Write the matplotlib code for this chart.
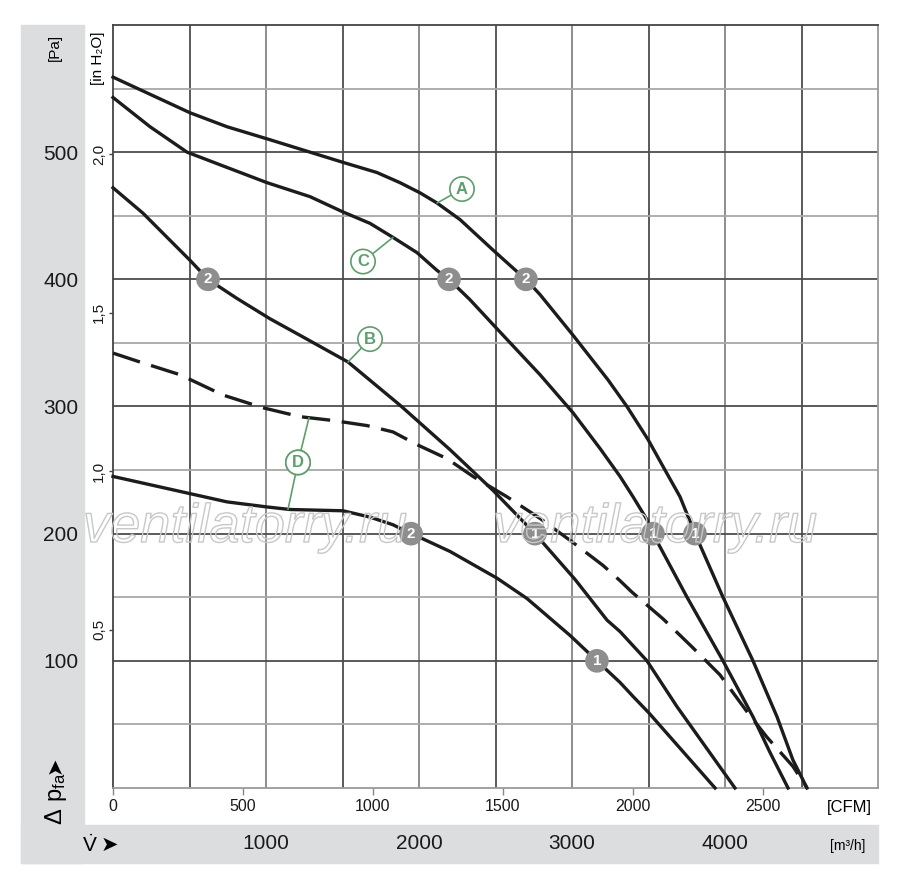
import numpy as np
import matplotlib
matplotlib.use('Agg')
import matplotlib.pyplot as plt
import matplotlib.patheffects as pe
from matplotlib.patches import Rectangle

plt.rcParams['font.family'] = ['Liberation Sans', 'DejaVu Sans']

# flow in m3/h, static pressure in Pa
a_flow = [0, 503, 745, 1020, 1288, 1503, 1725, 1876, 2007, 2118, 2268, 2484, 2641, 2699, 2791,
          3007, 3235, 3359, 3497, 3608, 3706, 3804, 3987, 4183, 4340, 4444, 4536]
a_pa = [559, 531, 520, 510, 500, 492, 484, 476, 468, 460, 447, 423, 406, 400, 388,
        356, 321, 300, 274, 250, 229, 200, 150, 100, 56, 22, 0]

c_flow = [0, 242, 484, 745, 1007, 1288, 1503, 1680, 1830, 1987, 2118, 2196, 2333, 2503, 2791,
          3007, 3183, 3314, 3399, 3490, 3529, 3752, 3987, 4183, 4294, 4412]
c_pa = [543, 520, 500, 488, 476, 465, 453, 444, 433, 421, 407, 400, 384, 362, 325,
        295, 267, 245, 229, 211, 200, 150, 100, 56, 28, 0]

b_flow = [0, 196, 503, 621, 810, 1026, 1222, 1536, 1876, 2203, 2484, 2758, 3020, 3229, 3314,
          3490, 3686, 4065]
b_pa = [472, 452, 415, 400, 385, 369, 356, 335, 301, 266, 234, 200, 164, 132, 123,
        100, 64, 0]

d_flow = [0, 484, 745, 1007, 1157, 1503, 1680, 1830, 1948, 2006, 2203, 2510, 2706, 2987, 3163,
          3314, 3399, 3503, 3935]
d_pa = [245, 232, 225, 221, 219, 218, 213, 207, 200, 197, 186, 165, 149, 120, 100,
        83, 72, 59, 0]

dash_flow = [0, 176, 438, 719, 980, 1222, 1438, 1660, 1830, 1987, 2183, 2353, 2575, 2791,
             3007, 3203, 3314, 3392, 3595, 3784, 3967, 4150, 4274, 4444, 4536]
dash_pa = [342, 335, 325, 309, 299, 292, 289, 285, 280, 270, 259, 245, 229, 212,
           193, 175, 163, 154, 133, 111, 89, 59, 40, 17, 0]

# operating point markers: (number, pressure)
a_marks = [('2', 400), ('1', 200)]
c_marks = [('2', 400), ('1', 200)]
b_marks = [('2', 400), ('1', 200)]
d_marks = [('2', 200), ('1', 100)]

m3h_ticks = [1000, 2000, 3000, 4000]
cfm_ticks = [0, 500, 1000, 1500, 2000, 2500]
pa_ticks = [100, 200, 300, 400, 500]
inh2o_ticks = [0.5, 1.0, 1.5, 2.0]
inh2o_labels = ['0,5', '1,0', '1,5', '2,0']

M3H_PER_CFM = 1.699
PA_PER_INH2O = 249.09

fig = plt.figure(figsize=(9, 8.88), dpi=100)
band = '#dcdddf'
fig.patches.append(Rectangle((21/900, 1-863/888), 63/900, 838/888, transform=fig.transFigure,
                             color=band, zorder=-1))
fig.patches.append(Rectangle((21/900, 1-863/888), 857/900, 38/888, transform=fig.transFigure,
                             color=band, zorder=-1))

ax = fig.add_axes([113/900, 100/888, 765/900, 763/888])
ax.set_xlim(0, 5000)
ax.set_ylim(0, 600)

ax.set_xticks(m3h_ticks)
ax.set_xticklabels([str(t) for t in m3h_ticks])
ax.set_xticks([500, 1500, 2500, 3500, 4500], minor=True)
ax.set_yticks(pa_ticks)
ax.set_yticklabels([str(t) for t in pa_ticks])
ax.set_yticks(np.arange(50, 600, 100), minor=True)
ax.grid(which='major', axis='x', color='#858585', lw=1.3)
ax.grid(which='minor', axis='x', color='#4d4d4d', lw=1.3)
ax.grid(which='major', axis='y', color='#4d4d4d', lw=1.3)
ax.grid(which='minor', axis='y', color='#a8a8a8', lw=1.3)
ax.tick_params(which='both', length=0)
ax.tick_params(axis='x', pad=33, labelsize=15, colors='#1a1a1a')
ax.tick_params(axis='y', pad=25, labelsize=15, colors='#1a1a1a')
for side in ['left', 'top']:
    ax.spines[side].set_color('#444444')
    ax.spines[side].set_linewidth(1.3)
for side in ['right', 'bottom']:
    ax.spines[side].set_color('#9a9a9a')
    ax.spines[side].set_linewidth(1.3)

sec = ax.secondary_xaxis('bottom', functions=(lambda q: q / M3H_PER_CFM, lambda c: c * M3H_PER_CFM))
sec.set_xticks(cfm_ticks)
sec.set_xticklabels([str(t) for t in cfm_ticks])
sec.tick_params(length=5, width=1, color='#888888', labelsize=11.5, pad=3, labelcolor='#1a1a1a')
sec.spines['bottom'].set_visible(False)

secy = ax.secondary_yaxis('left', functions=(lambda p: p / PA_PER_INH2O, lambda h: h * PA_PER_INH2O))
secy.set_yticks(inh2o_ticks)
secy.set_yticklabels(inh2o_labels, rotation=90, va='center')
secy.tick_params(length=3, width=1, color='#444444', labelsize=11, pad=2, labelcolor='#1a1a1a')
secy.spines['left'].set_visible(False)

ink = '#1c1c1c'
for fx, fy in [(a_flow, a_pa), (c_flow, c_pa), (b_flow, b_pa), (d_flow, d_pa)]:
    ax.plot(fx, fy, color=ink, lw=2.4, zorder=3, clip_on=False, solid_joinstyle='round')
ax.plot(dash_flow, dash_pa, color=ink, lw=2.4, ls=(0, (8.5, 3.5)), zorder=3, clip_on=False)

for fx, fy, marks in [(a_flow, a_pa, a_marks), (c_flow, c_pa, c_marks),
                      (b_flow, b_pa, b_marks), (d_flow, d_pa, d_marks)]:
    for num, p in marks:
        xm = np.interp(p, fy[::-1], fx[::-1])
        ax.scatter([xm], [p], s=290, color='#8e8e8e', edgecolors='none', zorder=5)
        ax.text(xm, p, num, color='white', fontsize=11, fontweight='bold',
                ha='center', va='center', zorder=6)

green = '#5e9e6c'


def tag(letter, x_anchor, fx, fy, circle_xy):
    ya = np.interp(x_anchor, fx, fy)
    ax.annotate(letter, xy=(x_anchor, ya), xytext=circle_xy, textcoords='data',
                ha='center', va='center', color=green, fontsize=12, fontweight='bold',
                bbox=dict(boxstyle='circle,pad=0.28', fc='white', ec=green, lw=1.2),
                arrowprops=dict(arrowstyle='-', color=green, lw=1.2, shrinkA=0, shrinkB=0),
                zorder=7)


tag('A', 2118, a_flow, a_pa, (2281, 471))
tag('C', 1830, c_flow, c_pa, (1634, 414))
tag('B', 1536, b_flow, b_pa, (1680, 353))
tag('D', 1144, d_flow, d_pa, (1209, 256))
tag('D', 1281, dash_flow, dash_pa, (1209, 256))

# axis captions
fig.text(55/900, 1-47/888, '[Pa]', rotation=90, ha='center', va='center', fontsize=11)
fig.text(98/900, 1-58/888, '[in H₂O]', rotation=90, ha='center', va='center', fontsize=11)
fig.text(56/900, 1-799/888, r'$\mathregular{\Delta\ p_{fa}}$', rotation=90,
         ha='center', va='center', fontsize=17)
fig.text(55/900, 1-765/888, '➤', rotation=90, ha='center', va='center', fontsize=15,
         family=['DejaVu Sans'])
fig.text(90/900, 1-845/888, r'$\mathregular{\dot{V}}$', ha='center', va='center', fontsize=15)
fig.text(109/900, 1-845/888, '➤', ha='center', va='center', fontsize=15, family=['DejaVu Sans'])
fig.text(849/900, 1-807/888, '[CFM]', ha='center', va='center', fontsize=12)
fig.text(848/900, 1-846/888, '[m³/h]', ha='center', va='center', fontsize=10)

# watermark
for fx in (245/900, 655/900):
    fig.text(fx, 1-542/888, 'ventilatorry.ru', fontsize=39, fontstyle='italic',
             family=['Liberation Sans', 'DejaVu Sans'], color='none', ha='center', va='baseline',
             path_effects=[pe.withStroke(linewidth=1, foreground='#c8c8c8')], zorder=10)

fig.savefig('out.png', dpi=100)
